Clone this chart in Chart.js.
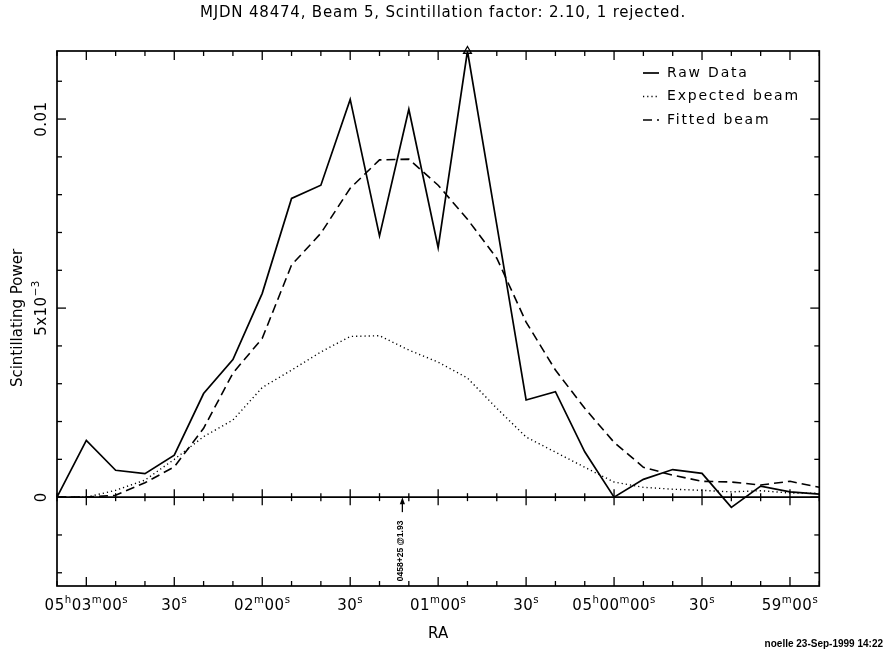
<!DOCTYPE html>
<html>
<head>
<meta charset="utf-8">
<title>Scintillating Power</title>
<script src="https://cdn.jsdelivr.net/npm/chart.js@4.4.1/dist/chart.umd.min.js"></script>
<style>
  html, body { margin: 0; padding: 0; background: #fff; }
  canvas { display: block; }
</style>
</head>
<body>
<canvas id="scintChart" width="886" height="652"></canvas>
<script>
// ---- data: one sample every 10 s of RA (05h03m10s -> 04h58m50s) ----
const raSeconds = [18190, 18180, 18170, 18160, 18150, 18140, 18130, 18120, 18110,
  18100, 18090, 18080, 18070, 18060, 18050, 18040, 18030, 18020, 18010,
  18000, 17990, 17980, 17970, 17960, 17950, 17940, 17930];

const rawData = [0, 0.00150, 0.00071, 0.00062, 0.00111, 0.00274, 0.00364, 0.00539, 0.00790,
  0.00825, 0.01052, 0.00691, 0.01026, 0.00660, 0.01180, 0.00720, 0.00257, 0.00279, 0.00120,
  0, 0.00047, 0.00073, 0.00063, -0.00027, 0.00029, 0.00014, 0.00008];

const expectedBeam = [0, 0, 0.00018, 0.00045, 0.00100, 0.00160, 0.00204, 0.00290, 0.00336,
  0.00384, 0.00425, 0.00427, 0.00389, 0.00357, 0.00315, 0.00235, 0.00159, 0.00119, 0.00079,
  0.00040, 0.00026, 0.00021, 0.00018, 0.00014, 0.00017, 0.00011, 0.00010];

const fittedBeam = [0, 0, 0.00005, 0.00038, 0.00080, 0.00182, 0.00328, 0.00420, 0.00614,
  0.00698, 0.00817, 0.00892, 0.00894, 0.00825, 0.00735, 0.00632, 0.00463, 0.00336, 0.00235,
  0.00145, 0.00079, 0.00058, 0.00042, 0.00040, 0.00032, 0.00042, 0.00026];

const seriesNames = ['Raw Data', 'Expected beam', 'Fitted beam'];

// axis ranges and labelled ticks ('^' = superscript)
const raMin = 17930, raMax = 18190;
const yMin = -0.00235, yMax = 0.0118;
const raMajorTicks = [18180, 18150, 18120, 18090, 18060, 18030, 18000, 17970, 17940];
const raTickLabels = ['05^h03^m00^s', '30^s', '02^m00^s', '30^s', '01^m00^s', '30^s',
  '05^h00^m00^s', '30^s', '59^m00^s'];
const yMajorTicks = [0, 0.005, 0.01];
const yTickLabels = ['0', '5x10^{\u22123}', '0.01'];

// source marker in the lower panel
const sourceRA = 18072.2;
const sourceLabel = '0458+25 @1.93';

const titleText = 'MJDN 48474, Beam 5, Scintillation factor: 2.10, 1 rejected.';
const stampText = 'noelle 23-Sep-1999 14:22';

const FONT = '"DejaVu Sans", sans-serif';

// text with ^x / ^{xx} superscripts, drawn at (x, y) baseline
function richRuns(text) {
  const runs = [];
  for (let i = 0; i < text.length; i++) {
    if (text[i] === '^') {
      let sup;
      if (text[i + 1] === '{') {
        const end = text.indexOf('}', i);
        sup = text.slice(i + 2, end);
        i = end;
      } else {
        sup = text[i + 1];
        i++;
      }
      runs.push({ t: sup, sup: true });
    } else if (runs.length && !runs[runs.length - 1].sup) {
      runs[runs.length - 1].t += text[i];
    } else {
      runs.push({ t: text[i], sup: false });
    }
  }
  return runs;
}

function drawRich(ctx, text, x, y, size, align) {
  const runs = richRuns(text);
  const supSize = size * 0.68;
  let total = 0;
  runs.forEach(r => {
    ctx.font = (r.sup ? supSize : size) + 'px ' + FONT;
    r.w = ctx.measureText(r.t).width;
    total += r.w;
  });
  let cx = align === 'center' ? x - total / 2 : (align === 'right' ? x - total : x);
  ctx.textAlign = 'left';
  ctx.textBaseline = 'alphabetic';
  runs.forEach(r => {
    ctx.font = (r.sup ? supSize : size) + 'px ' + FONT;
    ctx.fillText(r.t, cx, r.sup ? y - size * 0.45 : y);
    cx += r.w;
  });
}

function seg(ctx, x1, y1, x2, y2) {
  ctx.beginPath();
  ctx.moveTo(x1, y1);
  ctx.lineTo(x2, y2);
  ctx.stroke();
}

// frame, inward ticks, zero axis, labels, legend
const pgFrame = {
  id: 'pgFrame',
  beforeDraw(chart) {
    const ctx = chart.ctx;
    ctx.save();
    ctx.fillStyle = '#fff';
    ctx.fillRect(0, 0, chart.width, chart.height);
    ctx.restore();
  },
  afterDatasetsDraw(chart) {
    const { ctx, chartArea: a } = chart;
    const xs = chart.scales.x, ys = chart.scales.y;
    const y0 = ys.getPixelForValue(0);
    ctx.save();
    ctx.strokeStyle = '#000';
    ctx.fillStyle = '#000';
    ctx.lineWidth = 1.7;
    ctx.setLineDash([]);
    ctx.strokeRect(a.left, a.top, a.right - a.left, a.bottom - a.top);
    seg(ctx, a.left, y0, a.right, y0);

    // RA ticks every 10 s
    ctx.lineWidth = 1.3;
    for (let ra = raMax; ra >= raMin; ra -= 10) {
      const px = xs.getPixelForValue(ra);
      const major = raMajorTicks.includes(ra);
      const len = major ? 9 : 5;
      seg(ctx, px, a.top, px, a.top + len);
      seg(ctx, px, a.bottom, px, a.bottom - len);
      const zl = major ? 8 : 4;
      seg(ctx, px, y0 - zl, px, y0 + zl);
    }
    // power ticks every 1e-3
    for (let k = -2; k <= 11; k++) {
      const py = ys.getPixelForValue(k / 1000);
      const len = k % 5 === 0 ? 9 : 5;
      seg(ctx, a.left, py, a.left + len, py);
      seg(ctx, a.right, py, a.right - len, py);
    }

    // RA labels
    ctx.letterSpacing = '0.5px';
    raMajorTicks.forEach((ra, i) => {
      drawRich(ctx, raTickLabels[i], xs.getPixelForValue(ra), 610, 15, 'center');
    });
    // power labels (rotated)
    yMajorTicks.forEach((v, i) => {
      ctx.save();
      ctx.translate(46, ys.getPixelForValue(v));
      ctx.rotate(-Math.PI / 2);
      drawRich(ctx, yTickLabels[i], 0, 0, 15, 'center');
      ctx.restore();
    });
    ctx.letterSpacing = '0px';

    // axis titles
    ctx.font = '15px ' + FONT;
    ctx.textAlign = 'center';
    ctx.textBaseline = 'alphabetic';
    ctx.fillText('RA', (a.left + a.right) / 2, 638);
    ctx.save();
    ctx.translate(22, 318);
    ctx.rotate(-Math.PI / 2);
    ctx.fillText('Scintillating Power', 0, 0);
    ctx.restore();

    // title
    ctx.letterSpacing = '0.8px';
    ctx.font = '15px ' + FONT;
    ctx.fillText(titleText, chart.width / 2, 17);
    ctx.letterSpacing = '0px';

    // time stamp
    ctx.font = 'bold 10px "Liberation Sans", sans-serif';
    ctx.textAlign = 'right';
    ctx.fillText(stampText, 883, 647);

    // source marker
    const sx = xs.getPixelForValue(sourceRA);
    ctx.lineWidth = 1.3;
    ctx.beginPath();
    ctx.moveTo(sx, y0);
    ctx.lineTo(sx - 2.6, y0 + 7);
    ctx.lineTo(sx + 2.6, y0 + 7);
    ctx.closePath();
    ctx.fill();
    seg(ctx, sx, y0 + 6, sx, y0 + 15);
    ctx.save();
    ctx.translate(sx + 0.5, y0 + 84);
    ctx.rotate(-Math.PI / 2);
    ctx.font = 'bold 8.5px "Liberation Sans", sans-serif';
    ctx.textAlign = 'left';
    ctx.fillText(sourceLabel, 0, 0);
    ctx.restore();

    // legend
    ctx.font = '14px ' + FONT;
    ctx.letterSpacing = '1.8px';
    ctx.textAlign = 'left';
    ctx.textBaseline = 'middle';
    chart.data.datasets.forEach((ds, i) => {
      const ly = 73 + i * 23.5;
      ctx.lineWidth = ds.borderWidth;
      ctx.setLineDash(ds.borderDash || []);
      seg(ctx, 643, ly, 659, ly);
      ctx.setLineDash([]);
      ctx.fillText(ds.label, 667, ly);
    });
    ctx.restore();
  }
};

const toPoints = vals => vals.map((v, i) => ({ x: raSeconds[i], y: v }));

new Chart(document.getElementById('scintChart'), {
  type: 'line',
  data: {
    datasets: [
      {
        label: seriesNames[0],
        data: toPoints(rawData),
        borderColor: '#000',
        borderWidth: 1.7,
        borderDash: [],
        pointStyle: 'triangle',
        pointRadius: ctx => (ctx.raw && ctx.raw.y >= yMax ? 4.5 : 0),
        pointBackgroundColor: '#fff',
        pointBorderColor: '#000',
        pointBorderWidth: 1.3,
        clip: false
      },
      {
        label: seriesNames[1],
        data: toPoints(expectedBeam),
        borderColor: '#000',
        borderWidth: 1.4,
        borderDash: [1.2, 3],
        pointRadius: 0
      },
      {
        label: seriesNames[2],
        data: toPoints(fittedBeam),
        borderColor: '#000',
        borderWidth: 1.6,
        borderDash: [9, 5],
        pointRadius: 0
      }
    ]
  },
  options: {
    responsive: false,
    animation: false,
    events: [],
    layout: { padding: { left: 57, right: 66.7, top: 51, bottom: 66 } },
    scales: {
      x: { type: 'linear', reverse: true, min: raMin, max: raMax, display: false },
      y: { type: 'linear', min: yMin, max: yMax, display: false }
    },
    elements: { line: { tension: 0 } },
    plugins: {
      legend: { display: false },
      tooltip: { enabled: false }
    }
  },
  plugins: [pgFrame]
});
</script>
</body>
</html>
